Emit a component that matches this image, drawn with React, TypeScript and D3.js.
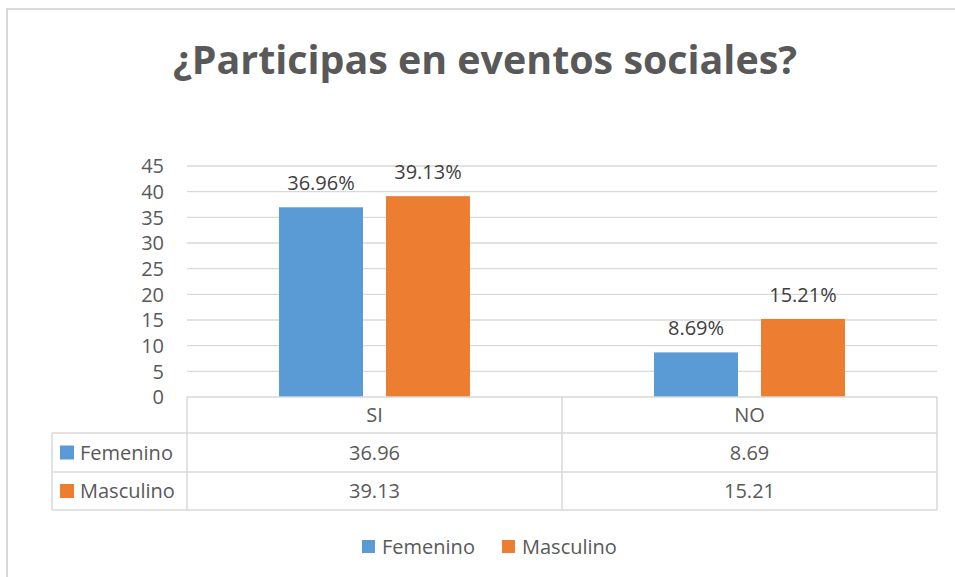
import React from 'react';
import * as d3 from 'd3';

const title = '¿Participas en eventos sociales?';
const categories = ['SI', 'NO'];
const seriesNames = ['Femenino', 'Masculino'];
const femenino = [36.96, 8.69];
const masculino = [39.13, 15.21];
const femeninoLabels = ['36.96%', '8.69%'];
const masculinoLabels = ['39.13%', '15.21%'];
const femeninoTable = ['36.96', '8.69'];
const masculinoTable = ['39.13', '15.21'];
const yTicks = [0, 5, 10, 15, 20, 25, 30, 35, 40, 45];
const seriesColors = ['#5B9BD5', '#ED7D31'];

const W = 955;
const H = 577;
const plotLeft = 187;
const plotRight = 937;
const plotTop = 166;
const plotBottom = 397;
const tableLeft = 52;
const rowBottoms = [433, 472, 510];
const FONT = "'Open Sans', sans-serif";
const TXT = '#595959';
const GRID = '#D9D9D9';

export default function App() {
  const y = d3.scaleLinear().domain([0, 45]).range([plotBottom, plotTop]);
  const x0 = d3.scaleBand<string>().domain(categories).range([plotLeft, plotRight]);
  const x1 = d3
    .scaleBand<string>()
    .domain(seriesNames)
    .range([0, x0.bandwidth()])
    .paddingInner(0.215)
    .paddingOuter(0.86);

  const seriesValues = [femenino, masculino];
  const seriesLabels = [femeninoLabels, masculinoLabels];
  const tableValues = [femeninoTable, masculinoTable];

  return (
    <svg
      width={W}
      height={H}
      style={{ position: 'absolute', left: 0, top: 0, background: '#fff' }}
      fontFamily={FONT}
    >
      <rect x={0} y={0} width={W} height={H} fill="#fff" />
      <rect x={7} y={9} width={W * 2} height={H * 2} fill="none" stroke={GRID} strokeWidth={2} />
      <text
        x={485}
        y={74}
        textAnchor="middle"
        fontSize={40}
        fontWeight="bold"
        fill={TXT}
        textLength={624}
        lengthAdjust="spacingAndGlyphs"
      >
        {title}
      </text>

      {/* gridlines */}
      {yTicks.filter((t) => t > 0).map((t) => (
        <line key={t} x1={plotLeft} x2={plotRight} y1={y(t)} y2={y(t)} stroke={GRID} strokeWidth={1.3} />
      ))}
      {/* y tick labels */}
      {yTicks.map((t) => (
        <text key={'t' + t} x={164} y={y(t)} dy="0.36em" textAnchor="end" fontSize={20} fill={TXT}>
          {t}
        </text>
      ))}

      {/* bars */}
      {seriesNames.map((s, si) =>
        categories.map((c, ci) => {
          const v = seriesValues[si][ci];
          const bx = (x0(c) as number) + (x1(s) as number);
          return (
            <g key={s + c}>
              <rect x={bx} y={y(v)} width={x1.bandwidth()} height={y(0) - y(v)} fill={seriesColors[si]} />
              <text
                x={bx + x1.bandwidth() / 2}
                y={y(v) - 17}
                textAnchor="middle"
                fontSize={20}
                fill="#404040"
              >
                {seriesLabels[si][ci]}
              </text>
            </g>
          );
        })
      )}

      {/* data table */}
      <g stroke={GRID} strokeWidth={1.5}>
        <line x1={plotLeft} x2={plotRight} y1={plotBottom} y2={plotBottom} />
        <line x1={tableLeft} x2={plotRight} y1={rowBottoms[0]} y2={rowBottoms[0]} />
        <line x1={tableLeft} x2={plotRight} y1={rowBottoms[1]} y2={rowBottoms[1]} />
        <line x1={tableLeft} x2={plotRight} y1={rowBottoms[2]} y2={rowBottoms[2]} />
        <line x1={tableLeft} x2={tableLeft} y1={rowBottoms[0]} y2={rowBottoms[2]} />
        <line x1={plotLeft} x2={plotLeft} y1={plotBottom} y2={rowBottoms[2]} />
        {categories.map((c) => {
          const xr = (x0(c) as number) + x0.bandwidth();
          return <line key={'v' + c} x1={xr} x2={xr} y1={plotBottom} y2={rowBottoms[2]} />;
        })}
      </g>
      {categories.map((c) => (
        <text
          key={'h' + c}
          x={(x0(c) as number) + x0.bandwidth() / 2}
          y={(plotBottom + rowBottoms[0]) / 2}
          dy="0.36em"
          textAnchor="middle"
          fontSize={20}
          fill={TXT}
        >
          {c}
        </text>
      ))}
      {seriesNames.map((s, si) => {
        const top = rowBottoms[si];
        const bot = rowBottoms[si + 1];
        const cy = (top + bot) / 2;
        return (
          <g key={'row' + s}>
            <rect x={60} y={cy - 7} width={14} height={14} fill={seriesColors[si]} />
            <text x={80} y={cy} dy="0.36em" fontSize={20} fill={TXT}>
              {s}
            </text>
            {categories.map((c, ci) => (
              <text
                key={c}
                x={(x0(c) as number) + x0.bandwidth() / 2}
                y={cy}
                dy="0.36em"
                textAnchor="middle"
                fontSize={20}
                fill={TXT}
              >
                {tableValues[si][ci]}
              </text>
            ))}
          </g>
        );
      })}

      {/* legend */}
      {seriesNames.map((s, si) => {
        const lx = [362, 502][si];
        return (
          <g key={'lg' + s}>
            <rect x={lx} y={540} width={13} height={13} fill={seriesColors[si]} />
            <text x={lx + 20} y={546.5} dy="0.36em" fontSize={20} fill={TXT}>
              {s}
            </text>
          </g>
        );
      })}
    </svg>
  );
}
